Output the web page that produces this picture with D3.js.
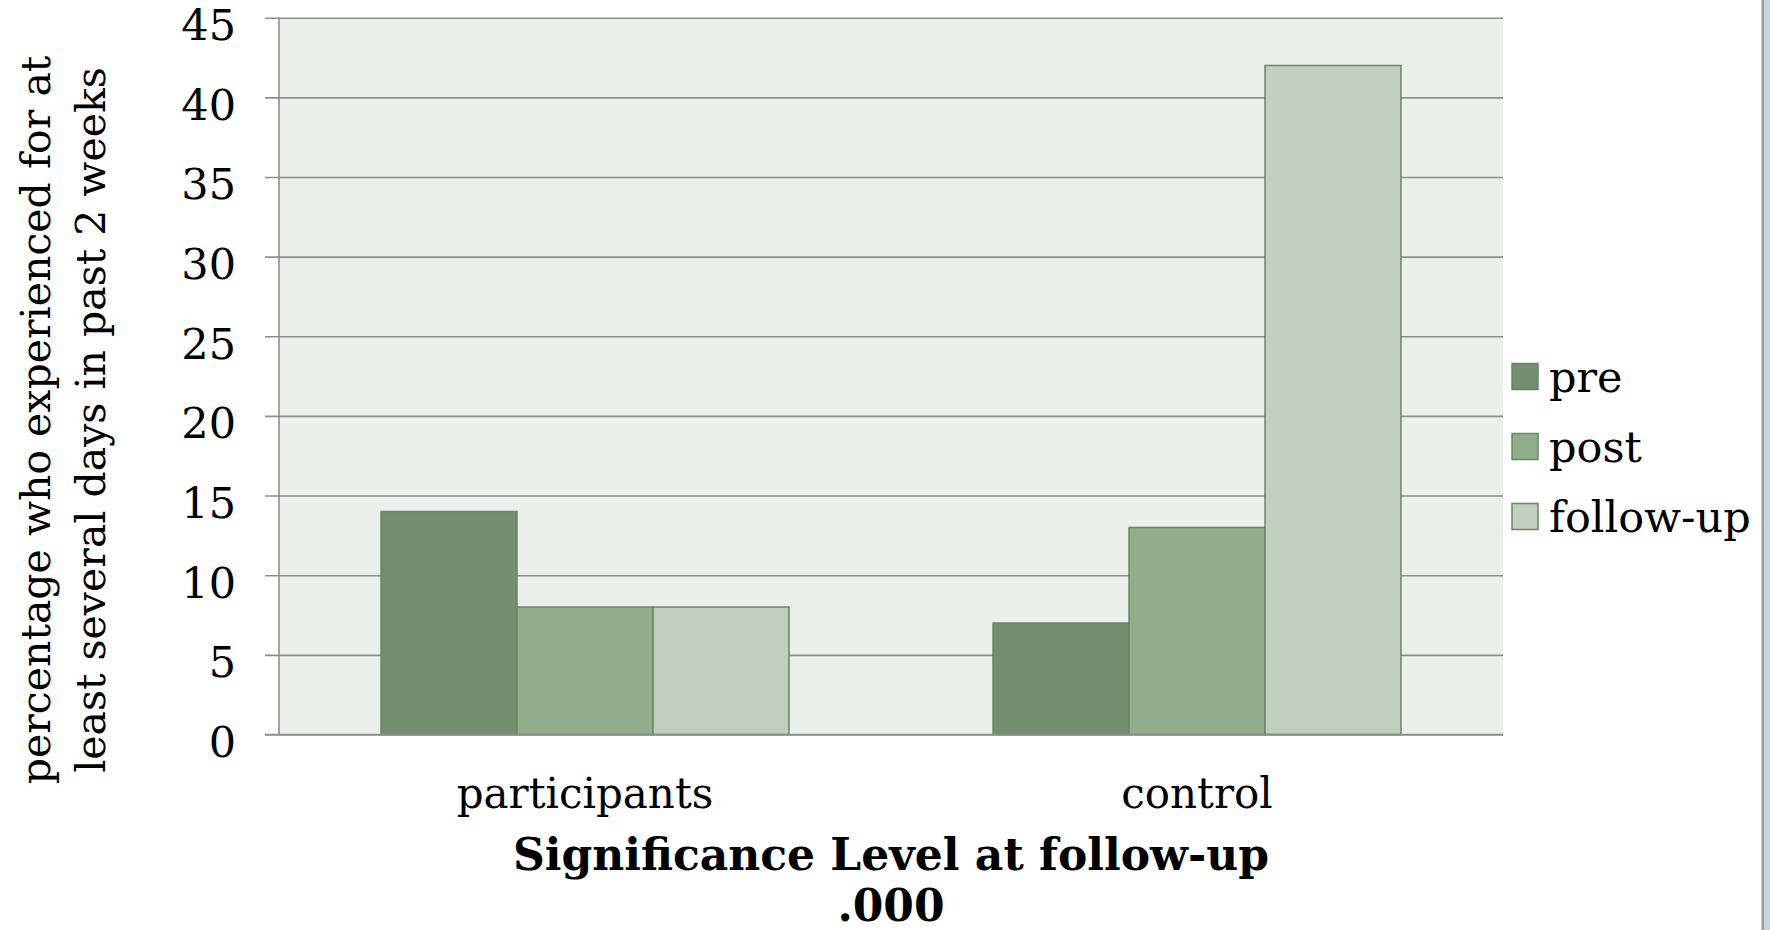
<!DOCTYPE html>
<html>
<head>
<meta charset="utf-8">
<script src="https://cdn.jsdelivr.net/npm/d3@7"></script>
<style>
  html, body { margin: 0; padding: 0; background: #ffffff; }
  svg { display: block; }
  text { font-family: "DejaVu Serif", Georgia, serif; fill: #000; }
</style>
</head>
<body>
<svg id="chart" width="1770" height="930"></svg>
<script>
// ---- data ----
const categories = ["participants", "control"];
const seriesNames = ["pre", "post", "follow-up"];
const preValues = [14, 7];
const postValues = [8, 13];
const followUpValues = [8, 42];
const yTicks = [0, 5, 10, 15, 20, 25, 30, 35, 40, 45];
const yTitleLines = ["percentage who experienced for at", "least several days in past 2 weeks"];
const xTitleLines = ["Significance Level at follow-up", ".000"];
const seriesColors = ["#748f70", "#90ae8a", "#bfd0bd"];

const seriesValues = [preValues, postValues, followUpValues];
const rows = categories.map((c, i) => ({
  category: c,
  values: seriesNames.map((s, j) => ({ series: s, value: seriesValues[j][i], idx: j }))
}));

// ---- layout ----
const svg = d3.select("#chart");
const plot = { left: 279, right: 1503, top: 17.7, bottom: 734.5 };
const W = plot.right - plot.left, H = plot.bottom - plot.top;

const x0 = d3.scaleBand().domain(categories).range([0, W]).padding(0);
const x1 = d3.scaleBand().domain(seriesNames).range([0, x0.bandwidth()])
  .paddingInner(0).paddingOuter(0.75);
const y = d3.scaleLinear().domain([0, 45]).range([H, 0]);
const color = d3.scaleOrdinal().domain(seriesNames).range(seriesColors);

// right slide edge decoration
svg.append("rect").attr("x", 1764).attr("y", 0).attr("width", 6).attr("height", 930).attr("fill", "#c9d4dc");
svg.append("rect").attr("x", 1761.5).attr("y", 0).attr("width", 2.5).attr("height", 930).attr("fill", "#9c9c9c");

const g = svg.append("g").attr("transform", `translate(${plot.left},${plot.top})`);

// plot background
g.append("rect").attr("x", 0).attr("y", 0).attr("width", W).attr("height", H).attr("fill", "#ecf0ec");

// y axis with gridlines
const yAxis = d3.axisLeft(y).tickValues(yTicks).tickSize(-W).tickPadding(0).tickFormat(d3.format("d"));
const ya = g.append("g").call(yAxis);
ya.select(".domain").remove();
ya.selectAll(".tick line")
  .attr("x1", -14).attr("x2", W)
  .attr("stroke", "#8e8e8e").attr("stroke-width", 1.6);
ya.selectAll(".tick text")
  .attr("x", -43).attr("dy", "22")
  .attr("text-anchor", "end")
  .style("font-family", '"DejaVu Serif", serif')
  .style("font-size", "43px").attr("fill", "#000");

// left axis line
g.append("line").attr("x1", 0).attr("x2", 0).attr("y1", 0).attr("y2", H)
  .attr("stroke", "#8e8e8e").attr("stroke-width", 1.6);

// bars
const groups = g.selectAll(".grp").data(rows).join("g")
  .attr("class", "grp")
  .attr("transform", d => `translate(${x0(d.category)},0)`);
groups.selectAll("rect").data(d => d.values).join("rect")
  .attr("x", d => x1(d.series))
  .attr("y", d => y(d.value))
  .attr("width", x1.bandwidth())
  .attr("height", d => H - y(d.value))
  .attr("fill", d => color(d.series))
  .attr("stroke", "#6a8566")
  .attr("stroke-width", 1.5);

// baseline redraw
g.append("line").attr("x1", -14).attr("x2", W).attr("y1", H).attr("y2", H)
  .attr("stroke", "#8e8e8e").attr("stroke-width", 1.6);

// category labels
g.selectAll(".cat").data(categories).join("text")
  .attr("class", "cat")
  .attr("x", d => x0(d) + x0.bandwidth() / 2)
  .attr("y", 808 - plot.top)
  .attr("text-anchor", "middle")
  .style("font-size", "42px")
  .text(d => d);

// x title (bold, two lines)
svg.selectAll(".xt").data(xTitleLines).join("text")
  .attr("class", "xt")
  .attr("x", plot.left + W / 2)
  .attr("y", (d, i) => 870 + i * 51)
  .attr("text-anchor", "middle")
  .style("font-size", "44px")
  .style("font-weight", "bold")
  .text(d => d);

// y title (rotated, two lines)
svg.selectAll(".yt").data(yTitleLines).join("text")
  .attr("class", "yt")
  .attr("transform", (d, i) => `translate(${50 + i * 55},420) rotate(-90)`)
  .attr("text-anchor", "middle")
  .style("font-size", "41px")
  .text(d => d);

// legend
const legend = svg.append("g");
const items = legend.selectAll(".li").data(seriesNames).join("g")
  .attr("class", "li")
  .attr("transform", (d, i) => `translate(1512,${363.5 + i * 70})`);
items.append("rect")
  .attr("x", 0).attr("y", 0).attr("width", 26).attr("height", 26)
  .attr("fill", d => color(d))
  .attr("stroke", "#6a8566").attr("stroke-width", 1.5);
items.append("text")
  .attr("x", 37).attr("y", 28)
  .style("font-size", "43px")
  .text(d => d);
</script>
</body>
</html>
